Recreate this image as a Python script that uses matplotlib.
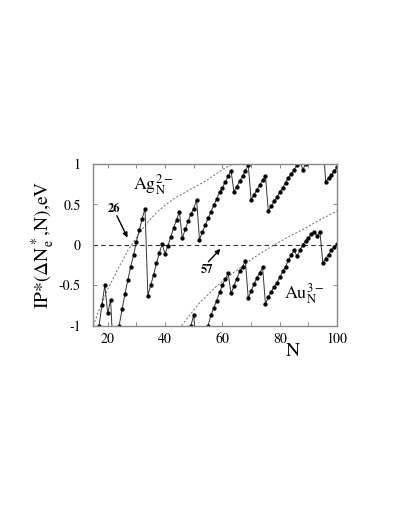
import matplotlib
matplotlib.use('Agg')
import matplotlib.pyplot as plt

# Ag_N^{2-} ionization potential
ag_n = list(range(16, 101))
ag_ip = [-1.25, -1.0, -0.74, -0.5, -0.85, -0.68, -1.38, -1.2, -1.0, -0.8,
         -0.61, -0.44, -0.27, -0.13, 0.04, 0.18, 0.32, 0.45, -0.63, -0.5,
         -0.37, -0.23, -0.1, 0.01, -0.11, -0.01, 0.10, 0.21, 0.31, 0.41,
         0.08, 0.19, 0.29, 0.38, 0.45, 0.56, 0.06, 0.16, 0.24, 0.33,
         0.41, 0.49, 0.57, 0.65, 0.71, 0.78, 0.85, 0.92, 0.66, 0.72,
         0.79, 0.85, 0.92, 0.99, 0.56, 0.62, 0.68, 0.74, 0.80, 0.85,
         0.42, 0.48, 0.54, 0.59, 0.65, 0.71, 0.77, 0.83, 0.88, 0.93,
         0.99, 1.05, 0.93, 1.0, 1.06, 1.12, 1.17, 1.22, 1.27, 1.32,
         0.78, 0.83, 0.87, 0.92, 0.96]

# Au_N^{3-} ionization potential
au_n = list(range(48, 101))
au_ip = [-1.15, -1.0, -0.87, -1.3, -1.4, -1.27, -1.13, -1.0, -0.87, -0.78,
         -0.69, -0.59, -0.50, -0.42, -0.35, -0.60, -0.51, -0.42, -0.33, -0.27,
         -0.20, -0.66, -0.57, -0.49, -0.41, -0.35, -0.28, -0.73, -0.65, -0.58,
         -0.52, -0.47, -0.40, -0.33, -0.27, -0.19, -0.12, -0.07, -0.14, -0.07,
         0.0, 0.05, 0.09, 0.13, 0.16, 0.11, 0.16, -0.22, -0.17, -0.12,
         -0.07, -0.03, 0.01]

# smooth reference curves
ag_fit_n = [15.0, 16.5, 18.4, 20.0, 21.9, 23.5, 25.4, 27.0, 28.9, 31.0, 33.0,
            35.0, 37.0, 40.0, 43.0, 46.0, 49.0, 52.0, 54.6, 57.5, 60.4, 63.5]
ag_fit_v = [-1.0, -0.85, -0.69, -0.55, -0.42, -0.30, -0.18, -0.07, 0.03, 0.14, 0.24,
            0.32, 0.40, 0.49, 0.57, 0.63, 0.69, 0.75, 0.80, 0.87, 0.94, 1.0]
au_fit_n = [45.8, 47.5, 49.3, 52.0, 55.2, 58.0, 60.4, 64.0, 67.6, 70.5, 73.5,
            78.1, 83.0, 88.6, 94.0, 100.0]
au_fit_v = [-1.0, -0.92, -0.84, -0.72, -0.61, -0.51, -0.44, -0.34, -0.25, -0.17, -0.10,
            0.0, 0.10, 0.20, 0.31, 0.42]

plt.rcParams['font.family'] = ['STIXGeneral', 'DejaVu Serif']
plt.rcParams['mathtext.fontset'] = 'stix'

fig = plt.figure(figsize=(3.99, 5.16), dpi=100)
ax = fig.add_axes([0.234, 0.369, 0.611, 0.313])

ax.axhline(0, color='#333333', lw=0.8, ls=(0, (4, 3)))
ax.plot(ag_fit_n, ag_fit_v, color='#666666', lw=0.7, ls=(0, (2, 2)))
ax.plot(au_fit_n, au_fit_v, color='#666666', lw=0.7, ls=(0, (2, 2)))

ax.plot(ag_n, ag_ip, '-o', color='#333333', lw=0.7, ms=2.1, mfc='black', mec='black')
ax.plot(au_n, au_ip, '-o', color='#333333', lw=0.7, ms=2.1, mfc='black', mec='black')

ax.set_xlim(15, 100)
ax.set_ylim(-1, 1)
ax.set_xticks([20, 40, 60, 80, 100])
ax.set_xticks(range(20, 100, 10), minor=True)
ax.set_yticks([-1, -0.5, 0, 0.5, 1])
ax.set_yticklabels(['-1', '-0.5', '0', '0.5', '1'])
ax.tick_params(which='both', direction='in', top=True, right=True,
               length=3, width=0.6, color='#777777', labelsize=10)
ax.tick_params(axis='y', pad=9)
ax.tick_params(axis='x', pad=5)
for s in ax.spines.values():
    s.set_color('#888888')
    s.set_linewidth(1.0)

ax.set_ylabel(r'IP*($\Delta$N$_\mathrm{e}^*$,N),eV', fontsize=14, labelpad=1)
fig.text(0.735, 0.318, 'N', fontsize=14, ha='center', va='center')

ax.text(35.8, 0.75, r'Ag$_\mathrm{N}^{2-}$', fontsize=13, ha='center', va='center')
ax.text(88.5, -0.6, r'Au$_\mathrm{N}^{3-}$', fontsize=13, ha='center', va='center')

ax.text(22.1, 0.44, '26', fontsize=9, fontweight='bold', ha='center', va='center')
ax.annotate('', xy=(26.9, 0.09), xytext=(23.2, 0.36),
            arrowprops=dict(arrowstyle='-|>', color='black', lw=1.0,
                            mutation_scale=7, shrinkA=0, shrinkB=0))
ax.text(54.7, -0.31, '57', fontsize=9, fontweight='bold', ha='center', va='center')
ax.annotate('', xy=(59.3, -0.05), xytext=(55.1, -0.21),
            arrowprops=dict(arrowstyle='-|>', color='black', lw=1.0,
                            mutation_scale=7, shrinkA=0, shrinkB=0))

fig.savefig('out.png', dpi=100)
